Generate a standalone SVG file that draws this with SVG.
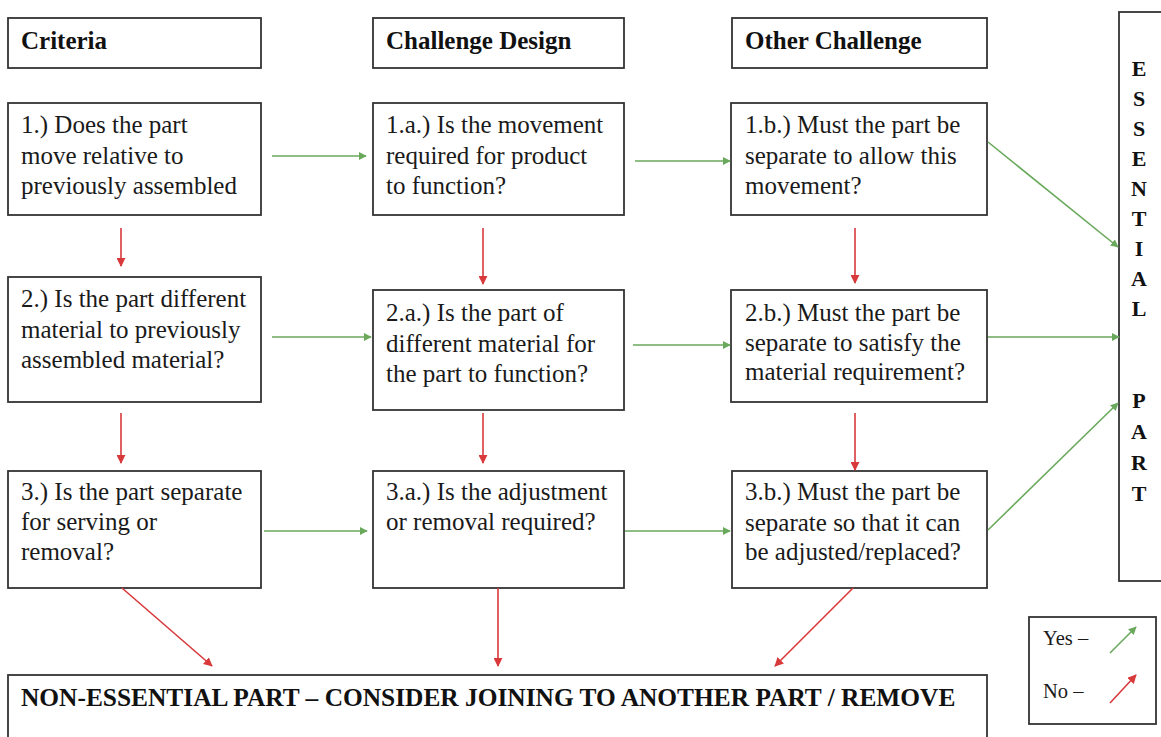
<svg xmlns="http://www.w3.org/2000/svg" width="1161" height="737" viewBox="0 0 1161 737">
<style>
  .box { fill: #ffffff; stroke: #333333; stroke-width: 1.8; }
  .t { font-family: "Liberation Serif", "Times New Roman", serif; font-size: 25px; fill: #1a1a1a; }
  .h { font-family: "Liberation Serif", "Times New Roman", serif; font-size: 25px; font-weight: bold; fill: #111111; }
  .ess { font-family: "Liberation Serif", "Times New Roman", serif; font-size: 22px; font-weight: bold; fill: #111111; text-anchor: middle; }
  .leg { font-family: "Liberation Serif", "Times New Roman", serif; font-size: 20.5px; fill: #1a1a1a; }
  .yes { stroke: #6aa95c; stroke-width: 1.6; fill: none; marker-end: url(#ag); }
  .no { stroke: #d8393b; stroke-width: 1.6; fill: none; marker-end: url(#ar); }
</style>
<defs>
  <marker id="ag" viewBox="0 0 10 10" refX="9" refY="5" markerWidth="8" markerHeight="8" markerUnits="userSpaceOnUse" orient="auto">
    <path d="M0,0 L10,5 L0,10 Z" fill="#6aa95c"/>
  </marker>
  <marker id="ar" viewBox="0 0 10 10" refX="9" refY="5" markerWidth="9" markerHeight="9" markerUnits="userSpaceOnUse" orient="auto">
    <path d="M0,0 L10,5 L0,10 Z" fill="#d8393b"/>
  </marker>
</defs>
<rect width="1161" height="737" fill="#ffffff"/>

<g id="hdr-criteria"><rect class="box" x="8" y="18" width="253" height="50"/><text class="h" x="21" y="49">Criteria</text></g>
<g id="hdr-design"><rect class="box" x="373" y="18" width="251" height="50"/><text class="h" x="386" y="49">Challenge Design</text></g>
<g id="hdr-other"><rect class="box" x="732" y="18" width="255" height="50"/><text class="h" x="745" y="49">Other Challenge</text></g>

<g id="n1"><rect class="box" x="8" y="103" width="253" height="112"/>
  <text class="t" x="21" y="133">1.) Does the part</text>
  <text class="t" x="21" y="164">move relative to</text>
  <text class="t" x="21" y="194">previously assembled</text></g>
<g id="n1a"><rect class="box" x="373" y="103" width="251" height="112"/>
  <text class="t" x="386" y="133">1.a.) Is the movement</text>
  <text class="t" x="386" y="164">required for product</text>
  <text class="t" x="386" y="194">to function?</text></g>
<g id="n1b"><rect class="box" x="731" y="103" width="256" height="112"/>
  <text class="t" x="745" y="133">1.b.) Must the part be</text>
  <text class="t" x="745" y="164">separate to allow this</text>
  <text class="t" x="745" y="194">movement?</text></g>

<g id="n2"><rect class="box" x="8" y="277" width="253" height="125"/>
  <text class="t" x="21" y="307">2.) Is the part different</text>
  <text class="t" x="21" y="338">material to previously</text>
  <text class="t" x="21" y="368">assembled material?</text></g>
<g id="n2a"><rect class="box" x="373" y="290" width="251" height="120"/>
  <text class="t" x="386" y="321">2.a.) Is the part of</text>
  <text class="t" x="386" y="352">different material for</text>
  <text class="t" x="386" y="382">the part to function?</text></g>
<g id="n2b"><rect class="box" x="731" y="290" width="256" height="112"/>
  <text class="t" x="745" y="321">2.b.) Must the part be</text>
  <text class="t" x="745" y="351">separate to satisfy the</text>
  <text class="t" x="745" y="380">material requirement?</text></g>

<g id="n3"><rect class="box" x="8" y="471" width="253" height="117"/>
  <text class="t" x="21" y="500">3.) Is the part separate</text>
  <text class="t" x="21" y="530">for serving or</text>
  <text class="t" x="21" y="560">removal?</text></g>
<g id="n3a"><rect class="box" x="373" y="471" width="251" height="117"/>
  <text class="t" x="386" y="500">3.a.) Is the adjustment</text>
  <text class="t" x="386" y="530">or removal required?</text></g>
<g id="n3b"><rect class="box" x="732" y="471" width="255" height="117"/>
  <text class="t" x="745" y="500">3.b.) Must the part be</text>
  <text class="t" x="745" y="531">separate so that it can</text>
  <text class="t" x="745" y="560">be adjusted/replaced?</text></g>

<g id="essential"><rect class="box" x="1119" y="12" width="60" height="569"/>
  <text class="ess" x="1139" y="76">E</text>
  <text class="ess" x="1139" y="106">S</text>
  <text class="ess" x="1139" y="136">S</text>
  <text class="ess" x="1139" y="166">E</text>
  <text class="ess" x="1139" y="196">N</text>
  <text class="ess" x="1139" y="226">T</text>
  <text class="ess" x="1139" y="256">I</text>
  <text class="ess" x="1139" y="286">A</text>
  <text class="ess" x="1139" y="316">L</text>
  <text class="ess" x="1139" y="408">P</text>
  <text class="ess" x="1139" y="439">A</text>
  <text class="ess" x="1139" y="470">R</text>
  <text class="ess" x="1139" y="501">T</text></g>

<g id="nonessential"><rect class="box" x="8" y="675" width="979" height="80"/>
  <text class="h" x="21" y="706" style="font-size:25.4px">NON-ESSENTIAL PART – CONSIDER JOINING TO ANOTHER PART / REMOVE</text></g>

<g id="legend"><rect class="box" x="1029" y="617" width="127" height="107"/>
  <text class="leg" x="1043" y="645">Yes –</text>
  <text class="leg" x="1043" y="698">No –</text>
  <line class="yes" x1="1110" y1="653" x2="1136" y2="627"/>
  <line class="no" x1="1110" y1="703" x2="1136" y2="675"/></g>

<g id="connectors">
  <line class="yes" x1="272" y1="156" x2="366" y2="156"/>
  <line class="yes" x1="635" y1="161" x2="730" y2="161"/>
  <line class="yes" x1="272" y1="337" x2="371" y2="337"/>
  <line class="yes" x1="633" y1="345" x2="730" y2="345"/>
  <line class="yes" x1="988" y1="337" x2="1119" y2="337"/>
  <line class="yes" x1="264" y1="531" x2="367" y2="531"/>
  <line class="yes" x1="625" y1="531" x2="730" y2="531"/>
  <line class="yes" x1="988" y1="142" x2="1118" y2="247"/>
  <line class="yes" x1="988" y1="530" x2="1118" y2="403"/>

  <line class="no" x1="121" y1="228" x2="121" y2="266"/>
  <line class="no" x1="121" y1="413" x2="121" y2="463"/>
  <line class="no" x1="483" y1="228" x2="483" y2="284"/>
  <line class="no" x1="483" y1="413" x2="483" y2="463"/>
  <line class="no" x1="855" y1="228" x2="855" y2="283"/>
  <line class="no" x1="855" y1="413" x2="855" y2="470"/>
  <line class="no" x1="122" y1="588" x2="212" y2="666"/>
  <line class="no" x1="498" y1="588" x2="498" y2="666"/>
  <line class="no" x1="853" y1="588" x2="775" y2="666"/>
</g>
</svg>
